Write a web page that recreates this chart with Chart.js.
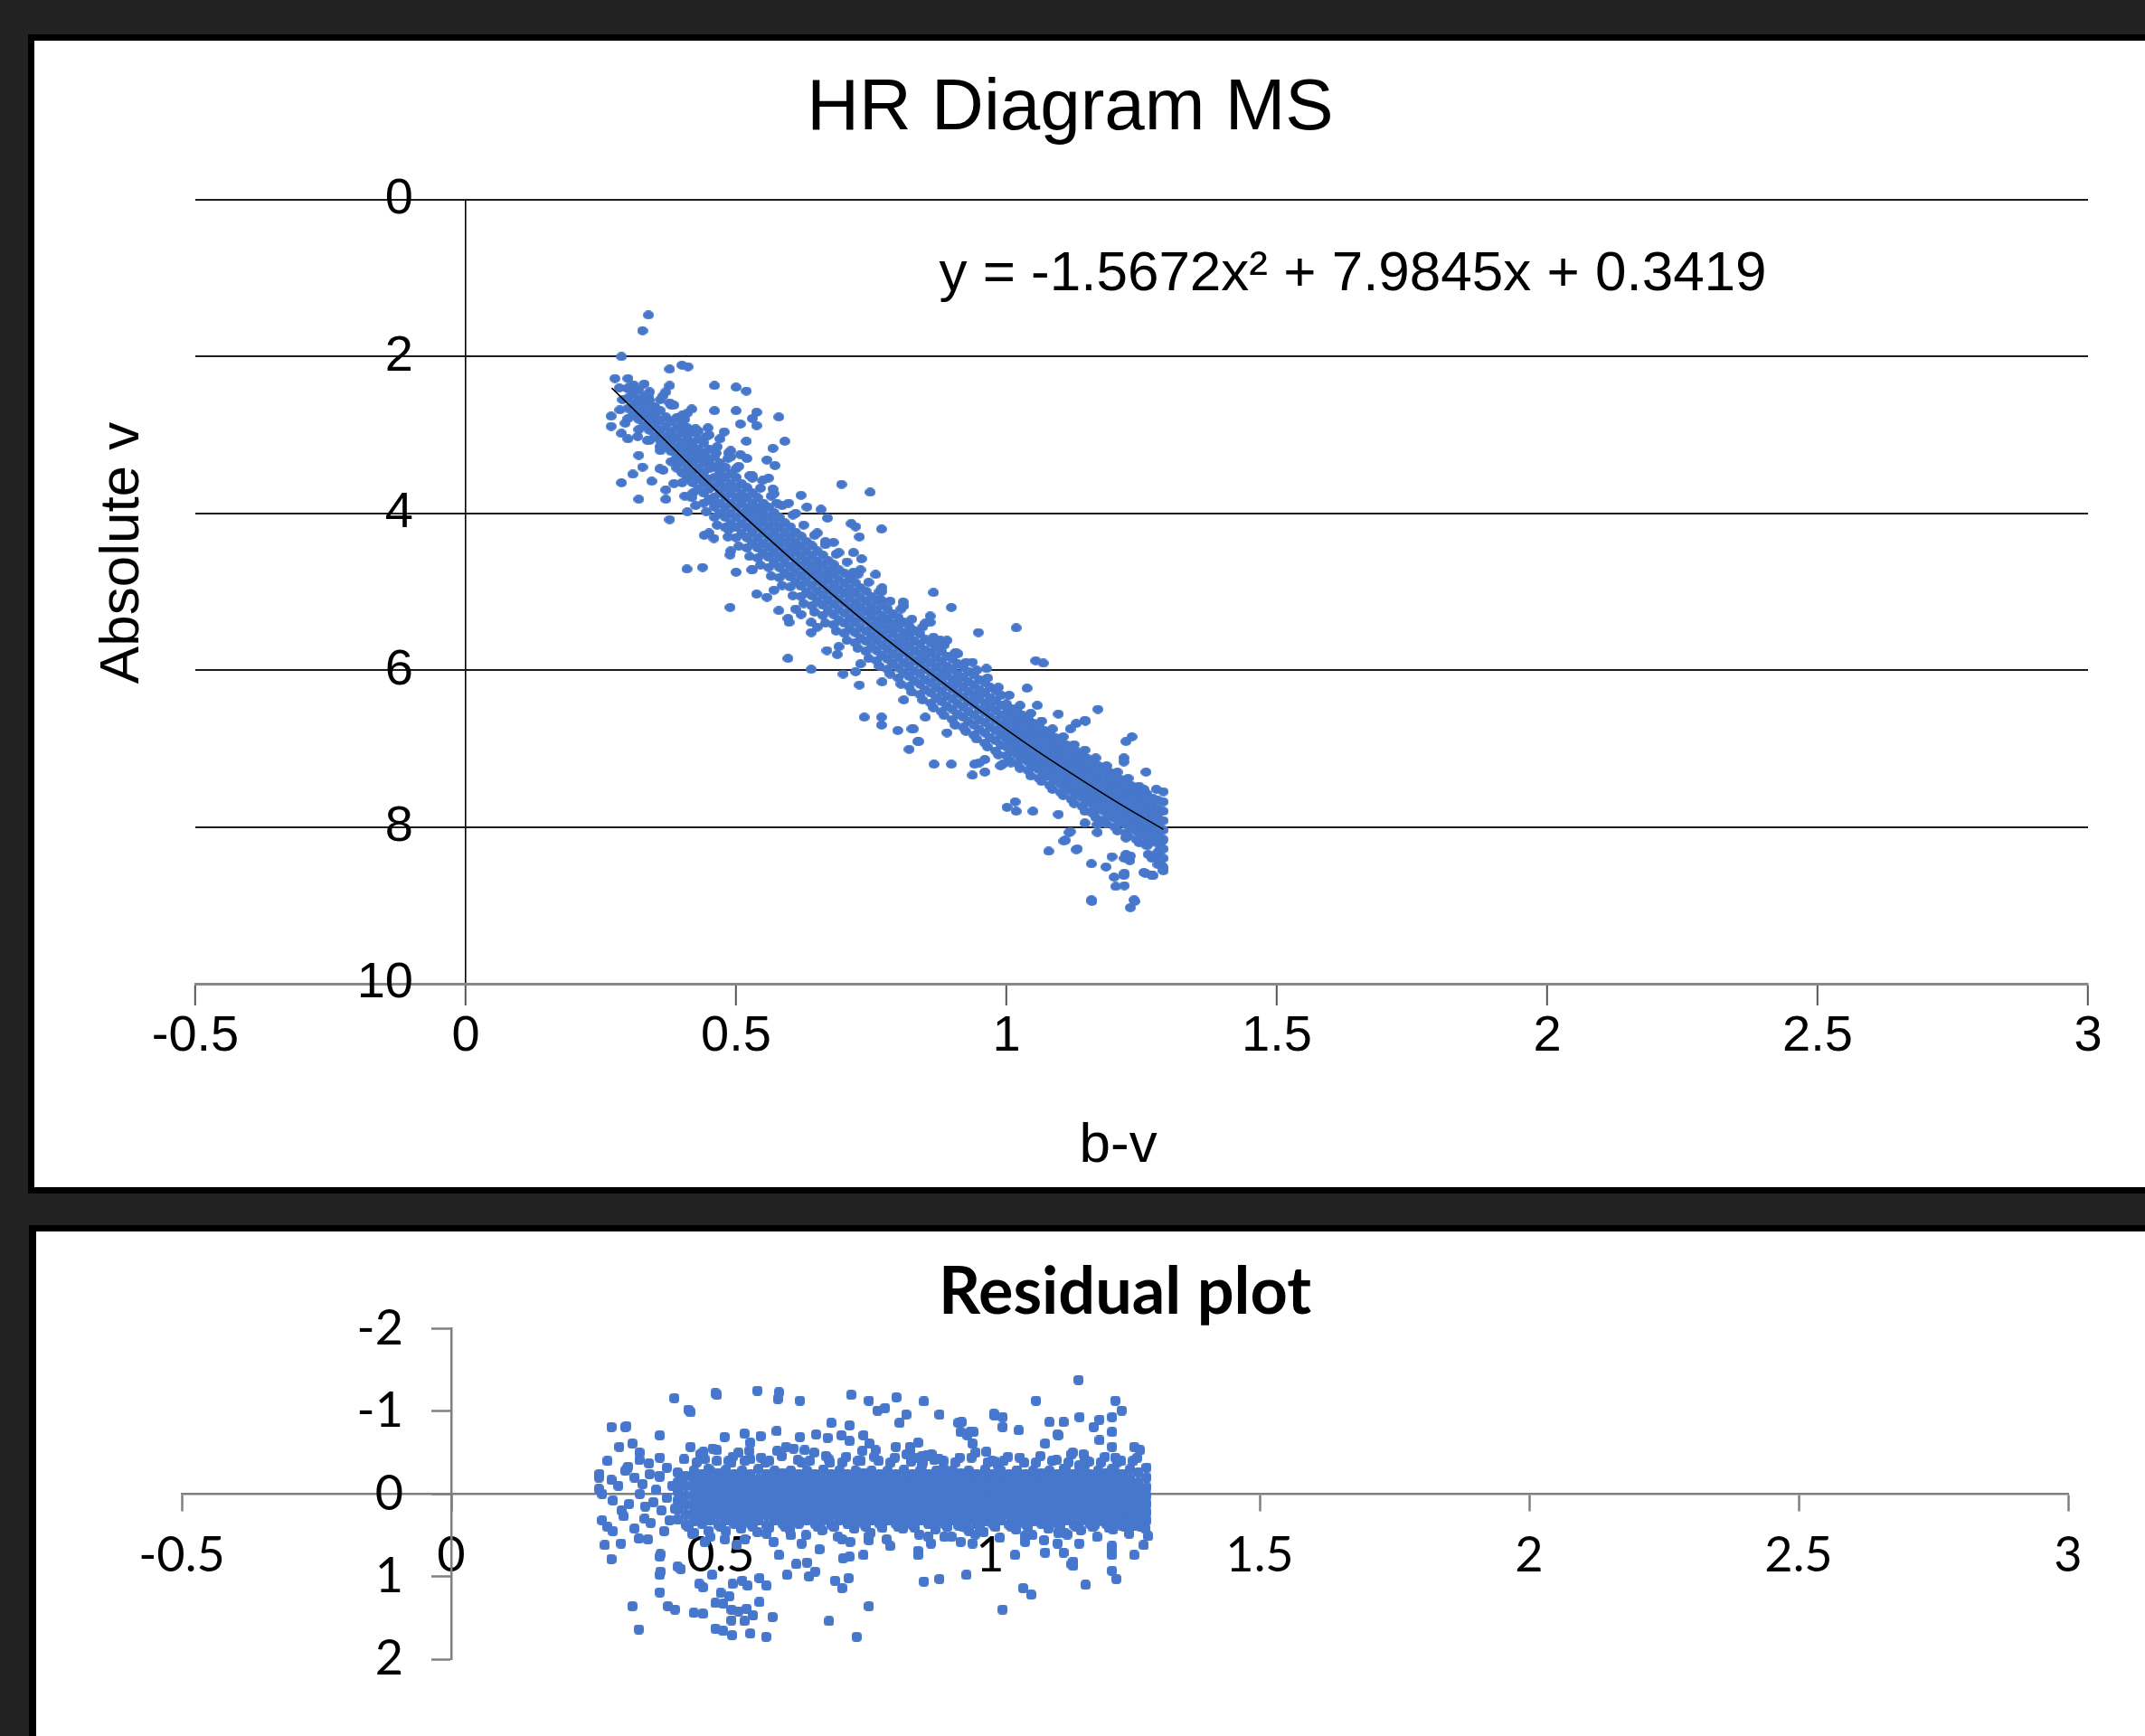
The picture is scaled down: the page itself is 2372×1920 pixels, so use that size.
<!DOCTYPE html>
<html>
<head>
<meta charset="UTF-8">
<title>HR Diagram MS</title>
<script src="https://cdn.jsdelivr.net/npm/chart.js"></script>
<style>
  body { margin: 0; background: #222222; width: 2372px; height: 1920px; overflow: hidden; position: relative; }
  .frame { position: absolute; background: #000; }
  canvas { position: absolute; background: #fff; }
  #topFrame { left: 31px; top: 38px; width: 2341px; height: 1282px; }
  #hrCanvas { left: 38px; top: 45px; }
  #bottomFrame { left: 32px; top: 1355px; width: 2340px; height: 565px; }
  #residCanvas { left: 40px; top: 1362px; }
</style>
</head>
<body>
<div class="frame" id="topFrame"></div>
<canvas id="hrCanvas" width="2334" height="1268"></canvas>
<div class="frame" id="bottomFrame"></div>
<canvas id="residCanvas" width="2332" height="558"></canvas>
<script>
// ---- axis ticks ----
const xTickValues = [-0.5, 0, 0.5, 1, 1.5, 2, 2.5, 3];
const xTickLabels = ['-0.5', '0', '0.5', '1', '1.5', '2', '2.5', '3'];
const yTickValues = [0, 2, 4, 6, 8, 10];
const yTickLabels = ['0', '2', '4', '6', '8', '10'];
const residYTickValues = [-2, -1, 0, 1, 2];
const residYTickLabels = ['-2', '-1', '0', '1', '2'];

// ---- trendline ----
const trendEquation = 'y = -1.5672x\u00b2 + 7.9845x + 0.3419';
const trendBv = [0.27, 0.35, 0.45, 0.55, 0.65, 0.75, 0.85, 0.95, 1.05, 1.15, 1.22, 1.29];
const trendAbsV = [2.40, 2.94, 3.62, 4.26, 4.87, 5.45, 5.99, 6.51, 7.00, 7.45, 7.75, 8.03];

// ---- HR diagram: stars read one by one (b-v, absolute v) ----
const hrStars = [
  [0.338,1.47],[0.327,1.67],[0.288,2.00],[0.276,2.28],[0.377,2.16],[0.400,2.11],[0.411,2.13],
  [0.377,2.37],[0.460,2.37],[0.500,2.39],[0.519,2.44],[0.284,2.40],[0.310,2.43],[0.338,2.51],[0.338,2.57],
  [0.377,2.59],[0.418,2.67],[0.460,2.69],[0.500,2.69],[0.538,2.71],[0.530,2.79],[0.579,2.77],
  [0.269,2.76],[0.269,2.89],[0.288,2.98],[0.321,2.69],[0.336,2.71],[0.348,2.84],[0.400,2.87],[0.411,2.97],
  [0.448,2.91],[0.478,2.96],[0.508,2.86],[0.538,2.88],[0.519,3.08],[0.590,3.08],[0.568,3.17],
  [0.318,3.02],[0.336,3.07],[0.359,3.15],[0.374,3.02],[0.320,3.26],[0.327,3.41],[0.309,3.50],[0.288,3.61],
  [0.320,3.82],[0.377,4.08],[0.370,3.82],[0.344,3.59],[0.359,3.43],[0.389,3.33],[0.403,3.49],[0.418,3.59],[0.418,3.80],
  [0.418,3.20],[0.441,3.25],[0.463,3.23],[0.486,3.23],[0.508,3.25],[0.500,3.43],[0.471,3.43],
  [0.530,3.55],[0.549,3.58],[0.557,3.32],[0.572,3.39],[0.568,3.69],
  [0.448,3.64],[0.456,3.85],[0.471,4.00],[0.486,4.21],[0.441,4.28],[0.459,4.32],[0.489,4.53],
  [0.409,4.71],[0.438,4.69],[0.500,4.75],[0.529,4.72],[0.489,5.20],
  [0.515,3.79],[0.530,3.95],[0.553,3.90],[0.575,3.87],[0.597,3.87],[0.620,3.77],[0.631,3.92],[0.657,3.95],
  [0.695,3.63],[0.748,3.73],[0.669,4.06],[0.713,4.13],[0.721,4.17],[0.769,4.20],[0.728,4.30],
  [0.665,4.36],[0.680,4.37],[0.717,4.50],[0.732,4.58],[0.680,4.71],[0.717,4.75],[0.758,4.78],
  [0.538,5.03],[0.557,5.07],[0.579,5.24],[0.596,5.34],[0.598,5.39],[0.620,5.29],[0.639,5.39],[0.639,5.52],
  [0.596,5.85],[0.639,5.99],[0.668,5.75],[0.687,5.80],[0.698,6.05],[0.721,6.02],[0.728,6.19],
  [0.737,6.60],[0.769,6.60],[0.769,6.70],[0.799,6.77],[0.825,6.75],[0.820,7.01],[0.836,6.91],
  [0.769,5.00],[0.769,5.11],[0.809,5.13],[0.865,5.01],[0.898,5.20],[0.859,5.31],[0.859,5.39],
  [0.799,5.42],[0.825,5.48],[0.878,5.62],[0.948,5.52],[1.018,5.46],[0.907,5.78],[0.937,5.90],[0.963,5.98],
  [1.054,5.88],[1.068,5.91],[0.866,7.20],[0.898,7.20],[0.937,7.34],[0.941,7.20],[0.960,7.30],[0.960,7.14],
  [0.993,7.20],[1.008,7.18],[1.001,7.75],[1.016,7.68],[1.018,7.80],[1.049,7.80],[1.096,7.84],
  [1.038,6.23],[1.057,6.45],[1.096,6.56],[1.169,6.50],[1.146,6.65],[1.145,6.64],[1.129,6.68],[1.118,6.75],
  [1.116,8.07],[1.109,8.17],[1.078,8.31],[1.131,8.28],[1.157,8.47],[1.184,8.51],[1.199,8.64],[1.202,8.76],
  [1.217,8.62],[1.157,8.93],[1.236,8.93],[1.229,9.03],[1.195,8.38],[1.221,8.35],[1.228,8.43],[1.254,8.58],[1.269,8.62],
  [1.221,6.91],[1.232,6.85],[1.217,7.12],[1.217,7.17],[1.258,7.30],[1.254,7.52],[1.277,7.52],
  [1.262,8.22],[1.262,8.35],[1.269,8.40],[0.910,5.79],[0.828,6.75],[0.838,6.91],[0.950,7.18],[0.989,7.22],
  [1.106,8.18],[1.129,8.29],[1.118,8.06],[1.157,7.81],[1.168,7.97],[1.168,8.07],[1.145,7.95],
  [1.221,8.14],[1.246,8.06],[1.257,8.22],[1.274,8.37],[1.285,8.41],[1.285,8.29],[1.288,8.18],
  [1.257,7.91],[1.268,7.75],[1.246,7.64],[1.235,7.54],[1.218,8.40],[1.229,8.37],[1.218,8.59],[1.218,8.75],
  [1.158,8.95],[1.237,8.95],[1.257,8.59],[1.271,8.62],[1.288,8.50],[1.290,8.56],[1.280,8.48],
  [0.300,2.40],[0.330,2.35],[0.360,2.55],[0.400,2.75],[0.430,2.95],[0.470,3.05],[0.520,3.30],[0.560,3.55],
  [0.450,3.35],[0.490,3.20],[0.380,2.62],[0.340,2.45],[0.290,2.55],[0.285,2.68],[0.295,2.85],[0.300,3.05]
];

// ---- HR diagram: looser stars along both edges of the band ----
const hrEdgeStars = [
  [0.365,2.50],[0.365,3.45],[0.385,2.62],[0.385,3.62],[0.405,2.80],[0.405,3.78],[0.425,2.92],[0.425,3.90],
  [0.445,3.02],[0.445,3.98],[0.465,3.15],[0.465,4.15],[0.485,3.30],[0.485,4.30],[0.505,3.40],[0.505,4.42],
  [0.525,3.52],[0.525,4.55],[0.545,3.68],[0.545,4.66],[0.565,3.78],[0.565,4.80],[0.585,3.90],[0.585,4.92],
  [0.605,4.02],[0.605,5.05],[0.625,4.15],[0.625,5.15],[0.645,4.28],[0.645,5.26],[0.665,4.40],[0.665,5.40],
  [0.685,4.52],[0.685,5.50],[0.705,4.62],[0.705,5.62],[0.725,4.78],[0.725,5.72],[0.745,4.88],[0.745,5.85],
  [0.765,5.00],[0.765,5.95],[0.785,5.12],[0.785,6.05],[0.805,5.22],[0.805,6.18],[0.825,5.35],[0.825,6.28],
  [0.845,5.45],[0.845,6.38],[0.865,5.58],[0.865,6.48],[0.885,5.68],[0.885,6.58],[0.905,5.78],[0.905,6.70],
  [0.925,5.90],[0.925,6.78],[0.945,6.00],[0.945,6.88],[0.965,6.10],[0.965,6.98],[0.985,6.22],[0.985,7.08],
  [1.005,6.32],[1.005,7.15],[1.025,6.45],[1.025,7.25],[1.045,6.55],[1.045,7.35],[1.065,6.65],[1.065,7.42],
  [1.085,6.75],[1.085,7.52],[1.105,6.85],[1.105,7.60],[1.125,6.95],[1.125,7.70],[1.145,7.02],[1.145,7.80],
  [1.165,7.12],[1.165,7.88],[1.185,7.22],[1.185,7.96],[1.205,7.30],[1.205,8.05],[1.225,7.38],[1.225,8.12],
  [1.245,7.48],[1.245,8.20],
  [0.37,2.45],[0.37,3.70],[0.41,2.72],[0.41,3.98],[0.45,3.00],[0.45,4.25],[0.49,3.28],[0.49,4.48],
  [0.53,3.52],[0.53,4.72],[0.57,3.75],[0.57,4.98],[0.61,4.00],[0.61,5.22],[0.65,4.25],[0.65,5.45],
  [0.69,4.50],[0.69,5.70],[0.73,4.72],[0.73,5.92],[0.77,4.95],[0.77,6.15],[0.81,5.18],[0.81,6.38],
  [0.85,5.40],[0.85,6.60],[0.89,5.62],[0.89,6.80]
];

// ---- HR diagram: solid main-sequence band, read column by column ----
const hrBandBv = [
  0.30,0.31,0.32,0.33,0.34,0.35,0.36,0.37,0.38,0.39,0.40,0.41,0.42,0.43,0.44,0.45,0.46,0.47,0.48,0.49,
  0.50,0.51,0.52,0.53,0.54,0.55,0.56,0.57,0.58,0.59,0.60,0.61,0.62,0.63,0.64,0.65,0.66,0.67,0.68,0.69,
  0.70,0.71,0.72,0.73,0.74,0.75,0.76,0.77,0.78,0.79,0.80,0.81,0.82,0.83,0.84,0.85,0.86,0.87,0.88,0.89,
  0.90,0.91,0.92,0.93,0.94,0.95,0.96,0.97,0.98,0.99,1.00,1.01,1.02,1.03,1.04,1.05,1.06,1.07,1.08,1.09,
  1.10,1.11,1.12,1.13,1.14,1.15,1.16,1.17,1.18,1.19,1.20,1.21,1.22,1.23,1.24,1.25,1.26,1.27,1.28,1.29
];
const hrBandAbsV = [
  [2.28,2.41,2.53,2.66,2.79],[2.36,2.48,2.61,2.74],[2.42,2.55,2.67,2.80,2.93],[2.50,2.62,2.75,2.88],
  [2.56,2.69,2.81,2.94,3.07],[2.64,2.76,2.89,3.02],[2.69,2.82,2.94,3.07,3.20],[2.77,2.89,3.02,3.15],
  [2.83,2.96,3.08,3.21,3.34],[2.78,2.91,3.03,3.16,3.29,3.42],
  [2.84,2.97,3.10,3.22,3.35,3.48,3.61],[2.91,3.04,3.16,3.29,3.42,3.55],
  [2.97,3.10,3.23,3.35,3.48,3.61,3.74],[3.05,3.18,3.30,3.43,3.56,3.69],
  [3.10,3.23,3.36,3.48,3.61,3.74,3.87],[3.18,3.31,3.43,3.56,3.69,3.82],
  [3.28,3.41,3.54,3.66,3.79,3.92,4.05],[3.36,3.49,3.61,3.74,3.87,4.00],
  [3.41,3.54,3.67,3.79,3.92,4.05,4.18],[3.49,3.62,3.74,3.87,4.00,4.13],
  [3.54,3.67,3.80,3.92,4.05,4.18,4.31],[3.62,3.75,3.87,4.00,4.13,4.26],
  [3.67,3.80,3.93,4.05,4.18,4.31,4.44],[3.74,3.87,3.99,4.12,4.25,4.38],
  [3.80,3.93,4.06,4.18,4.31,4.44,4.57],[3.87,4.00,4.12,4.25,4.38,4.51],
  [3.92,4.05,4.18,4.30,4.43,4.56,4.69],[3.99,4.12,4.24,4.37,4.50,4.63],
  [4.05,4.18,4.31,4.43,4.56,4.69,4.82],[4.12,4.25,4.37,4.50,4.63,4.76],
  [4.17,4.30,4.43,4.55,4.68,4.81,4.94],[4.24,4.37,4.49,4.62,4.75,4.88],
  [4.29,4.42,4.55,4.67,4.80,4.93,5.06],[4.36,4.49,4.61,4.74,4.87,5.00],
  [4.41,4.54,4.67,4.79,4.92,5.05,5.18],[4.48,4.61,4.73,4.86,4.99,5.12],
  [4.53,4.66,4.79,4.91,5.04,5.17,5.30],[4.60,4.73,4.85,4.98,5.11,5.24],
  [4.65,4.78,4.91,5.03,5.16,5.29,5.42],[4.72,4.85,4.97,5.10,5.23,5.36],
  [4.76,4.89,5.02,5.14,5.27,5.40,5.53],[4.83,4.96,5.08,5.21,5.34,5.47],
  [4.88,5.01,5.14,5.26,5.39,5.52,5.65],[4.95,5.08,5.20,5.33,5.46,5.59],
  [4.99,5.12,5.25,5.37,5.50,5.63,5.76],[5.06,5.19,5.31,5.44,5.57,5.70],
  [5.11,5.24,5.37,5.49,5.62,5.75,5.88],[5.17,5.30,5.42,5.55,5.68,5.81],
  [5.22,5.35,5.48,5.60,5.73,5.86,5.99],[5.28,5.41,5.53,5.66,5.79,5.92],
  [5.33,5.46,5.59,5.71,5.84,5.97,6.10],[5.39,5.52,5.64,5.77,5.90,6.03],
  [5.44,5.57,5.70,5.82,5.95,6.08,6.21],[5.50,5.63,5.75,5.88,6.01,6.14],
  [5.54,5.67,5.80,5.92,6.05,6.18,6.31],[5.61,5.74,5.86,5.99,6.12,6.25],
  [5.65,5.78,5.91,6.03,6.16,6.29,6.42],[5.71,5.84,5.96,6.09,6.22,6.35],
  [5.76,5.89,6.02,6.14,6.27,6.40,6.53],[5.82,5.95,6.07,6.20,6.33,6.46],
  [5.86,5.99,6.12,6.24,6.37,6.50,6.63],[5.92,6.05,6.17,6.30,6.43,6.56],
  [5.96,6.09,6.22,6.34,6.47,6.60,6.73],[6.02,6.15,6.27,6.40,6.53,6.66],
  [6.06,6.19,6.32,6.44,6.57,6.70,6.83],[6.12,6.25,6.37,6.50,6.63,6.76],
  [6.16,6.29,6.42,6.54,6.67,6.80,6.93],[6.22,6.35,6.47,6.60,6.73,6.86],
  [6.26,6.39,6.52,6.64,6.77,6.90,7.03],[6.32,6.45,6.57,6.70,6.83,6.96],
  [6.43,6.54,6.65,6.76,6.87,6.98,7.09],[6.49,6.60,6.71,6.82,6.93,7.04],
  [6.53,6.64,6.75,6.86,6.97,7.08,7.19],[6.58,6.69,6.80,6.91,7.02,7.13],
  [6.62,6.73,6.84,6.95,7.06,7.17,7.28],[6.68,6.79,6.90,7.01,7.12,7.23],
  [6.72,6.83,6.94,7.05,7.16,7.27,7.38],[6.77,6.88,6.99,7.10,7.21,7.32],
  [6.81,6.92,7.03,7.14,7.25,7.36,7.47],[6.86,6.97,7.08,7.19,7.30,7.41],
  [6.90,7.01,7.12,7.23,7.34,7.45,7.56],[6.95,7.06,7.17,7.28,7.39,7.50],
  [6.99,7.10,7.21,7.32,7.43,7.54,7.65],[7.04,7.15,7.26,7.37,7.48,7.59],
  [7.08,7.19,7.30,7.41,7.52,7.63,7.74],[7.13,7.24,7.35,7.46,7.57,7.68],
  [7.17,7.28,7.39,7.50,7.61,7.72,7.83],[7.22,7.33,7.44,7.55,7.66,7.77],
  [7.25,7.36,7.47,7.58,7.69,7.80,7.91],[7.30,7.41,7.52,7.63,7.74,7.85],
  [7.34,7.45,7.56,7.67,7.78,7.89,8.00],[7.39,7.50,7.61,7.72,7.83,7.94],
  [7.42,7.53,7.64,7.75,7.86,7.97,8.08],[7.47,7.58,7.69,7.80,7.91,8.02],
  [7.50,7.61,7.72,7.83,7.94,8.05,8.16],[7.55,7.66,7.77,7.88,7.99,8.10],
  [7.58,7.69,7.80,7.91,8.02,8.13,8.24],[7.63,7.74,7.85,7.96,8.07,8.18],
  [7.66,7.77,7.88,7.99,8.10,8.21,8.32],[7.55,7.68,7.80,7.92,8.04,8.16,8.28,8.40,8.52]
];

// ---- residual plot: scattered stars (b-v, residual) ----
const residStars = [
  [1.164,-1.38],[0.608,-1.23],[0.493,-1.20],[0.414,-1.16],[0.647,-1.13],[0.742,-1.20],[0.775,-1.13],[0.826,-1.17],
  [0.877,-1.12],[1.085,-1.13],[1.232,-1.13],[1.244,-1.01],[0.444,-0.99],[0.791,-1.01],[0.805,-1.04],[0.844,-0.96],
  [0.832,-0.86],[0.906,-0.96],[1.007,-0.97],[1.023,-0.93],[1.023,-0.81],[1.053,-0.77],[1.166,-0.93],[1.192,-0.81],
  [1.203,-0.90],[1.226,-0.93],[1.226,-0.75],[1.110,-0.87],[1.136,-0.87],[1.125,-0.72],[1.102,-0.61],[1.203,-0.65],
  [1.226,-0.57],[1.232,-0.44],[1.267,-0.57],[1.278,-0.53],[1.151,-0.48],[1.173,-0.48],[1.166,-0.35],[1.166,-0.28],
  [1.136,-0.30],[1.226,-0.30],[0.297,-0.81],[0.323,-0.81],[0.387,-0.71],[0.312,-0.57],[0.336,-0.61],[0.349,-0.50],
  [0.349,-0.41],[0.327,-0.31],[0.323,-0.28],[0.274,-0.20],[0.297,-0.17],[0.274,-0.06],[0.368,-0.24],[0.387,-0.44],
  [0.387,-0.21],[0.426,-0.21],[0.444,-0.57],[0.468,-0.51],[0.493,-0.53],[0.507,-0.69],[0.544,-0.73],[0.555,-0.62],
  [0.574,-0.70],[0.604,-0.76],[0.533,-0.50],[0.555,-0.42],[0.477,-0.30],[0.621,-0.57],[0.647,-0.69],[0.656,-0.53],
  [0.677,-0.72],[0.698,-0.68],[0.705,-0.86],[0.739,-0.83],[0.724,-0.71],[0.739,-0.64],[0.765,-0.71],[0.776,-0.61],
  [0.787,-0.53],[0.825,-0.57],[0.851,-0.57],[0.866,-0.62],[0.874,-0.46],[0.889,-0.46],[0.941,-0.86],[0.945,-0.75],
  [0.963,-0.75],[0.967,-0.61],[0.993,-0.51],[1.008,-0.39],[1.050,-0.28],[0.967,-0.21],
  [0.297,0.79],[0.336,1.36],[0.348,1.64],[0.387,0.76],[0.387,0.98],[0.387,1.19],[0.402,1.36],[0.415,1.40],
  [0.426,0.91],[0.467,1.13],[0.467,1.45],[0.484,0.98],[0.505,1.33],[0.516,1.24],[0.522,1.09],[0.505,1.66],
  [0.521,1.71],[0.533,1.42],[0.548,1.39],[0.544,1.54],[0.572,1.02],[0.572,1.31],[0.585,1.11],[0.596,1.49],
  [0.584,1.73],[0.608,0.74],[0.623,0.98],[0.640,0.85],[0.660,0.83],[0.664,1.00],[0.675,0.94],[0.683,0.67],
  [0.701,1.54],[0.712,1.05],[0.725,1.14],[0.737,1.02],[0.725,0.55],[0.727,0.78],[0.739,0.76],[0.752,1.73],
  [0.765,0.74],[0.775,1.36],[0.775,0.51],[0.775,0.56],[0.814,0.63],[0.832,0.40],[0.866,0.69],[0.866,0.74],
  [0.877,1.06],[0.906,1.03],[0.885,0.52],[0.915,0.52],[0.956,0.98],[1.023,1.40],[0.945,0.58],[0.967,0.60],
  [1.046,0.74],[1.061,1.14],[1.076,1.22],[1.065,0.58],[1.102,0.71],[1.125,0.60],[1.136,0.71],[1.151,0.85],
  [1.177,1.10],[1.226,0.67],[1.226,0.74],[1.226,0.93],[1.234,1.03],[1.267,0.74],[1.285,0.62],[1.293,0.51],
  [0.325,-0.82],[0.275,-0.24],[0.328,-0.33],[0.367,-0.37],[0.386,-0.22],[0.280,0.32],[0.290,0.40],[0.316,0.20],
  [0.320,0.27],[0.359,0.30],[0.348,0.54],[0.388,0.73],[0.388,0.94],[0.420,0.88],[0.450,1.44],[0.460,1.09],
  [0.490,1.32],[0.500,1.20],[0.490,1.63],[0.520,1.40],[0.520,1.53],[0.555,1.69],[0.540,1.05],[0.550,1.11],
  [0.560,1.47],[0.440,-1.02],[0.490,-1.22],[0.568,-1.25],[0.606,-1.15],
  [0.947,-0.87],[0.958,-0.71],[0.969,-0.75],[1.008,-0.95],[1.126,-0.71],[1.014,-0.35],[1.176,-0.35],[0.852,-0.50],
  [0.866,-0.44],[0.891,-0.48],[0.896,-0.41],[0.874,-0.35],[0.913,-0.31],[0.919,-0.22],[1.087,-0.24],
  [0.972,0.49],[1.064,0.51],[1.154,0.82],[1.154,0.87],[1.165,0.60],[1.226,0.63],[0.941,0.38],[0.961,0.45],
  [0.975,0.36],[1.008,0.38],[1.048,0.40],[1.193,0.38],[1.243,0.38],[1.266,0.38],[1.126,0.47],[1.143,0.49],
  [0.280,0.00],[0.300,0.08],[0.310,-0.10],[0.330,0.12],[0.350,0.00],[0.360,0.15],[0.380,-0.05],[0.390,0.20],
  [0.400,0.05],[0.410,-0.10],[0.370,0.35],[0.340,0.42],[0.300,0.45],[0.290,-0.40],[0.355,-0.12],[0.405,0.32],
  [0.395,0.45],[0.365,0.55],[0.315,0.60],[0.285,0.62],[0.400,-0.32],[0.340,-0.20],[0.415,0.18],[0.375,0.10],
  [0.450,0.47],[0.480,0.52],[0.510,0.45],[0.545,0.55],[0.585,0.48],[0.630,0.50],[0.470,-0.42],[0.520,-0.38],
  [0.590,-0.40],[0.650,-0.38],[0.700,-0.42],[0.760,-0.40]
];

// ---- residual plot: looser stars just outside the solid band ----
const residEdgeStars = [
  [0.432,-0.42],[0.447,0.48],[0.462,-0.48],[0.478,0.45],[0.493,-0.40],[0.508,0.55],[0.522,-0.45],[0.538,0.42],
  [0.553,-0.52],[0.568,0.46],[0.583,-0.38],[0.598,0.58],[0.613,-0.46],[0.628,0.43],[0.643,-0.41],[0.658,0.50],
  [0.673,-0.50],[0.688,0.44],[0.703,-0.38],[0.718,0.52],[0.733,-0.45],[0.748,0.42],[0.763,-0.52],[0.778,0.47],
  [0.793,-0.40],[0.808,0.55],[0.823,-0.44],[0.838,0.42],[0.853,-0.39],[0.868,0.49],[0.883,-0.47],[0.898,0.43],
  [0.913,-0.40],[0.928,0.52],[0.943,-0.44],[0.958,0.42],[0.973,-0.50],[0.988,0.46],[1.003,-0.40],[1.018,0.53],
  [1.033,-0.45],[1.048,0.43],[1.063,-0.38],[1.078,0.50],[1.093,-0.46],[1.108,0.42],[1.123,-0.41],[1.138,0.47],
  [1.153,-0.50],[1.168,0.44],[1.183,-0.39],[1.198,0.52],[1.213,-0.45],[1.228,0.43],[1.243,-0.40],[1.258,0.48],
  [1.273,-0.44],[1.288,0.42],
  [0.440,0.40],[0.455,-0.38],[0.470,0.58],[0.485,-0.55],[0.500,0.40],[0.515,-0.40],[0.530,0.62],[0.545,-0.40],
  [0.560,0.40],[0.575,-0.44],[0.590,0.41],[0.605,-0.52],[0.620,0.40],[0.635,-0.55],[0.650,0.60],[0.665,-0.40],
  [0.680,0.40],[0.695,-0.46],[0.710,0.40],[0.725,-0.38],[0.740,0.58],[0.755,-0.40],[0.770,0.40],[0.785,-0.45],
  [0.800,0.41],[0.815,-0.38],[0.830,0.40],[0.845,-0.48],[0.860,0.41],[0.875,-0.38],[0.890,0.60],[0.905,-0.42],
  [0.920,0.40],[0.935,-0.38],[0.950,0.40],[0.965,-0.44],[0.980,0.40],[0.995,-0.38],[1.010,0.40],[1.025,-0.40],
  [1.040,0.40],[1.055,-0.44],[1.070,0.40],[1.085,-0.38],[1.100,0.56],[1.115,-0.40],[1.130,0.40],[1.145,-0.38],
  [1.160,0.40],[1.175,-0.42],[1.190,0.40],[1.205,-0.38],[1.220,0.41],[1.235,-0.38],[1.250,0.40],[1.265,-0.40],
  [1.280,0.40]
];

// ---- residual plot: solid band, read column by column ----
const residBandBv = [
  0.420,0.435,0.450,0.465,0.480,0.495,0.510,0.525,0.540,0.555,0.570,0.585,0.600,0.615,0.630,0.645,0.660,0.675,
  0.690,0.705,0.720,0.735,0.750,0.765,0.780,0.795,0.810,0.825,0.840,0.855,0.870,0.885,0.900,0.915,0.930,0.945,
  0.960,0.975,0.990,1.005,1.020,1.035,1.050,1.065,1.080,1.095,1.110,1.125,1.140,1.155,1.170,1.185,1.200,1.215,
  1.230,1.245,1.260,1.275,1.290
];
const residBandValues = [
  [-0.26,-0.14,-0.03,0.08,0.19,0.31],[-0.22,-0.10,0.02,0.13,0.25,0.37],[-0.28,-0.18,-0.08,0.02,0.12,0.22,0.33],
  [-0.24,-0.14,-0.04,0.06,0.16,0.26,0.36],[-0.28,-0.18,-0.08,0.02,0.12,0.22,0.32],[-0.25,-0.15,-0.05,0.05,0.15,0.25,0.37],
  [-0.29,-0.18,-0.08,0.02,0.12,0.22,0.32],[-0.24,-0.14,-0.04,0.06,0.16,0.26,0.36],[-0.28,-0.18,-0.08,0.02,0.12,0.22,0.33],
  [-0.24,-0.14,-0.04,0.06,0.16,0.26,0.36],[-0.30,-0.18,-0.08,0.02,0.12,0.22,0.32],[-0.24,-0.14,-0.04,0.06,0.16,0.26,0.38],
  [-0.28,-0.18,-0.08,0.02,0.12,0.22,0.32],[-0.25,-0.14,-0.04,0.06,0.16,0.26,0.36],[-0.28,-0.18,-0.08,0.02,0.12,0.22,0.33],
  [-0.24,-0.14,-0.04,0.06,0.16,0.26,0.36],[-0.28,-0.18,-0.08,0.02,0.12,0.22,0.32],[-0.24,-0.14,-0.04,0.06,0.16,0.26,0.36],
  [-0.29,-0.18,-0.08,0.02,0.12,0.22,0.32],[-0.24,-0.14,-0.04,0.06,0.16,0.26,0.37],[-0.28,-0.18,-0.08,0.02,0.12,0.22,0.32],
  [-0.24,-0.14,-0.04,0.06,0.16,0.26,0.36],[-0.28,-0.18,-0.08,0.02,0.12,0.22,0.33],[-0.25,-0.14,-0.04,0.06,0.16,0.26,0.36],
  [-0.28,-0.18,-0.08,0.02,0.12,0.22,0.32],[-0.24,-0.14,-0.04,0.06,0.16,0.26,0.36],[-0.28,-0.18,-0.08,0.02,0.12,0.22,0.32],
  [-0.24,-0.14,-0.04,0.06,0.16,0.26,0.36],[-0.29,-0.18,-0.08,0.02,0.12,0.22,0.32],[-0.24,-0.14,-0.04,0.06,0.16,0.26,0.37],
  [-0.28,-0.18,-0.08,0.02,0.12,0.22,0.32],[-0.24,-0.14,-0.04,0.06,0.16,0.26,0.36],[-0.28,-0.18,-0.08,0.02,0.12,0.22,0.33],
  [-0.24,-0.14,-0.04,0.06,0.16,0.26,0.36],[-0.28,-0.18,-0.08,0.02,0.12,0.22,0.32],[-0.25,-0.14,-0.04,0.06,0.16,0.26,0.36],
  [-0.28,-0.18,-0.08,0.02,0.12,0.22,0.32],[-0.24,-0.14,-0.04,0.06,0.16,0.26,0.36],[-0.29,-0.18,-0.08,0.02,0.12,0.22,0.33],
  [-0.24,-0.14,-0.04,0.06,0.16,0.26,0.36],[-0.28,-0.18,-0.08,0.02,0.12,0.22,0.32],[-0.24,-0.14,-0.04,0.06,0.16,0.26,0.37],
  [-0.28,-0.18,-0.08,0.02,0.12,0.22,0.32],[-0.24,-0.14,-0.04,0.06,0.16,0.26,0.36],[-0.28,-0.18,-0.08,0.02,0.12,0.22,0.33],
  [-0.25,-0.14,-0.04,0.06,0.16,0.26,0.36],[-0.28,-0.18,-0.08,0.02,0.12,0.22,0.32],[-0.24,-0.14,-0.04,0.06,0.16,0.26,0.36],
  [-0.29,-0.18,-0.08,0.02,0.12,0.22,0.32],[-0.24,-0.14,-0.04,0.06,0.16,0.26,0.37],[-0.28,-0.18,-0.08,0.02,0.12,0.22,0.32],
  [-0.24,-0.14,-0.04,0.06,0.16,0.26,0.36],[-0.28,-0.18,-0.08,0.02,0.12,0.22,0.33],[-0.25,-0.14,-0.04,0.06,0.16,0.26,0.36],
  [-0.28,-0.18,-0.08,0.02,0.12,0.22,0.32],[-0.24,-0.14,-0.04,0.06,0.16,0.26,0.36],[-0.30,-0.18,-0.08,0.02,0.12,0.22,0.32],
  [-0.26,-0.14,-0.04,0.06,0.16,0.26,0.36],[-0.32,-0.20,-0.08,0.02,0.12,0.22,0.32]
];

const ARIAL = "'Liberation Sans', Arial, sans-serif";
const CALIBRI = "Lato, 'Open Sans', sans-serif";
Chart.defaults.font.family = ARIAL;
Chart.defaults.color = '#000';

// widest tick label, so right-aligned labels can be placed next to the axis
function widestLabel(labels, font) {
  const g = document.createElement('canvas').getContext('2d');
  g.font = font;
  return Math.max(...labels.map(t => g.measureText(t).width));
}

// marker images: Excel draws slightly flattened dots
function makeMarker(w, h, color, rounded) {
  const c = document.createElement('canvas');
  c.width = w;
  c.height = h;
  const g = c.getContext('2d');
  g.fillStyle = color;
  g.beginPath();
  if (rounded) g.roundRect(0, 0, w, h, 4);
  else g.ellipse(w / 2, h / 2, w / 2, h / 2, 0, 0, Math.PI * 2);
  g.fill();
  return c;
}
const hrMarker = makeMarker(12, 10, '#4677CB', false);
const residMarker = makeMarker(11, 11, '#4677CC', true);

// label-only y axes: keep the label offset out of the layout padding
function labelAxisFit(width) {
  return axis => {
    axis.width = width;
    axis.paddingTop = 0;
    axis.paddingBottom = 0;
  };
}

// Build point lists for the library
const hrPoints = hrStars.concat(hrEdgeStars).map(p => ({ x: p[0], y: p[1] }));
hrBandBv.forEach((bv, i) => hrBandAbsV[i].forEach(v => hrPoints.push({ x: bv, y: v })));
const trendPoints = trendBv.map((bv, i) => ({ x: bv, y: trendAbsV[i] }));

const residPoints = residStars.concat(residEdgeStars).map(p => ({ x: p[0], y: p[1] }));
residBandBv.forEach((bv, i) => residBandValues[i].forEach(v => residPoints.push({ x: bv, y: v })));

// Trendline equation written inside the plot area
const equationLabel = {
  id: 'equationLabel',
  afterDatasetsDraw(chart) {
    const ctx = chart.ctx;
    ctx.save();
    ctx.font = '62px ' + ARIAL;
    ctx.fillStyle = '#000';
    ctx.textAlign = 'center';
    ctx.textBaseline = 'middle';
    ctx.fillText(trendEquation, 1458, 259);
    ctx.restore();
  }
};

const hrTickFont = { family: ARIAL, size: 56 };
const hrYPad = 241 - widestLabel(yTickLabels, '56px ' + ARIAL);

// Top chart: HR diagram
new Chart(document.getElementById('hrCanvas'), {
  type: 'scatter',
  data: {
    datasets: [
      {
        label: 'Trend',
        data: trendPoints,
        showLine: true,
        borderColor: '#000',
        borderWidth: 1.6,
        pointRadius: 0,
        cubicInterpolationMode: 'monotone'
      },
      {
        label: 'Stars',
        data: hrPoints,
        pointStyle: hrMarker,
        pointRadius: 5,
        backgroundColor: '#4677CB',
        borderWidth: 0
      }
    ]
  },
  options: {
    responsive: false,
    animation: false,
    events: [],
    layout: { padding: { left: 20, right: 63, top: 0, bottom: 0 } },
    plugins: {
      legend: { display: false },
      tooltip: { enabled: false },
      title: {
        display: true,
        text: 'HR Diagram MS',
        color: '#000',
        font: { family: ARIAL, size: 80, weight: 'normal' },
        padding: { top: 28, bottom: 52 }
      }
    },
    scales: {
      x: {
        type: 'linear',
        position: 'bottom',
        min: -0.5,
        max: 3,
        afterBuildTicks: axis => { axis.ticks = xTickValues.map(v => ({ value: v })); },
        afterFit: axis => { axis.height = 225; },
        grid: {
          color: ctx => (ctx.tick && ctx.tick.value === 0) ? '#000' : 'rgba(0,0,0,0)',
          lineWidth: 1.6,
          drawTicks: true,
          tickLength: 24,
          tickColor: '#555',
          tickWidth: 2
        },
        border: { display: true, color: '#888', width: 3 },
        ticks: {
          padding: 1.4,
          color: '#000',
          font: hrTickFont,
          maxRotation: 0,
          autoSkip: false,
          callback: (v, i) => xTickLabels[i]
        },
        title: {
          display: true,
          text: 'b-v   ',
          color: '#000',
          font: { family: ARIAL, size: 62 },
          padding: { top: 40, bottom: 7.8 }
        }
      },
      y: {
        type: 'linear',
        position: 'left',
        reverse: true,
        min: 0,
        max: 10,
        afterBuildTicks: axis => { axis.ticks = yTickValues.map(v => ({ value: v })); },
        afterFit: labelAxisFit(158),
        grid: {
          color: ctx => (ctx.tick && ctx.tick.value === 10) ? 'rgba(0,0,0,0)' : '#1c1c1c',
          lineWidth: 2,
          drawTicks: false
        },
        border: { display: false },
        ticks: {
          mirror: true,
          crossAlign: 'far',
          padding: hrYPad,
          color: '#000',
          font: hrTickFont,
          callback: (v, i) => yTickLabels[i]
        },
        title: {
          display: true,
          text: '\u00a0\u00a0\u00a0\u00a0\u00a0Absolute v',
          color: '#000',
          font: { family: ARIAL, size: 62 },
          padding: { top: 40.8, bottom: 0 }
        }
      }
    }
  },
  plugins: [equationLabel]
});

const residTickFont = { family: CALIBRI, size: 54 };
const residYPad = 245 - widestLabel(residYTickLabels, '54px ' + CALIBRI);

// Bottom chart: residual plot
new Chart(document.getElementById('residCanvas'), {
  type: 'scatter',
  data: {
    datasets: [{
      label: 'Residuals',
      data: residPoints,
      pointStyle: residMarker,
      pointRadius: 5,
      backgroundColor: '#4677CC',
      borderWidth: 0
    }]
  },
  options: {
    responsive: false,
    animation: false,
    events: [],
    layout: { padding: { left: 161, right: 85, top: 0, bottom: 85 } },
    plugins: {
      legend: { display: false },
      tooltip: { enabled: false },
      title: {
        display: true,
        text: 'Residual plot',
        color: '#000',
        font: { family: CALIBRI, size: 72, weight: 'bold', lineHeight: 1.1 },
        padding: { top: 28.4, bottom: 0 }
      }
    },
    scales: {
      x: {
        type: 'linear',
        position: { y: 0 },
        min: -0.5,
        max: 3,
        afterBuildTicks: axis => { axis.ticks = xTickValues.map(v => ({ value: v })); },
        grid: { drawOnChartArea: false, drawTicks: true, tickLength: 18, tickColor: '#7f7f7f', tickWidth: 2.5 },
        border: { color: '#7f7f7f', width: 2.5 },
        ticks: {
          padding: 17.6,
          color: '#000',
          font: residTickFont,
          maxRotation: 0,
          autoSkip: false,
          callback: (v, i) => xTickLabels[i]
        }
      },
      y: {
        type: 'linear',
        position: { x: 0 },
        reverse: true,
        min: -2,
        max: 2,
        afterBuildTicks: axis => { axis.ticks = residYTickValues.map(v => ({ value: v })); },
        grid: { drawOnChartArea: false, drawTicks: true, tickLength: 21, tickColor: '#7f7f7f', tickWidth: 2.5 },
        border: { color: '#7f7f7f', width: 2.5 },
        ticks: { display: false }
      },
      yLabels: {
        axis: 'y',
        type: 'linear',
        position: 'left',
        reverse: true,
        min: -2,
        max: 2,
        afterBuildTicks: axis => { axis.ticks = residYTickValues.map(v => ({ value: v })); },
        afterFit: labelAxisFit(0),
        grid: { display: false },
        border: { display: false },
        ticks: {
          mirror: true,
          crossAlign: 'far',
          padding: residYPad,
          color: '#000',
          font: residTickFont,
          callback: (v, i) => residYTickLabels[i]
        }
      }
    }
  }
});
</script>
</body>
</html>
